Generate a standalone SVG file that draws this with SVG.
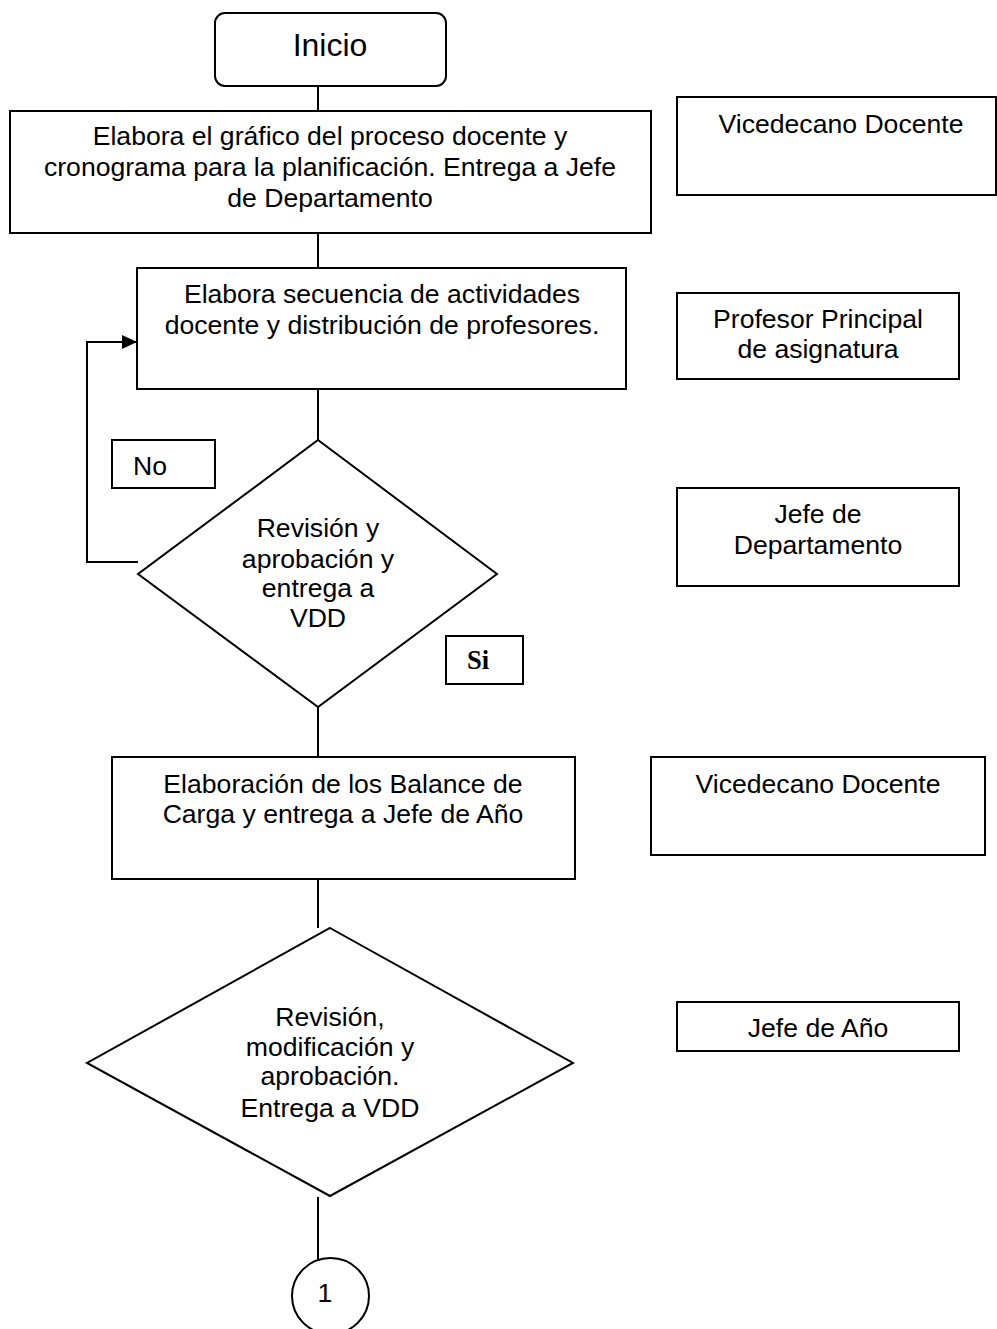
<svg xmlns="http://www.w3.org/2000/svg" width="997" height="1329" viewBox="0 0 997 1329">
  <style>
    .shape { fill: #ffffff; stroke: #000000; stroke-width: 2; }
    .link { fill: none; stroke: #000000; stroke-width: 2; }
    text { font-family: "Liberation Sans", Arial, sans-serif; font-size: 26.6px; fill: #000000; text-anchor: middle; }
    .title { font-size: 32px; }
    .tag { text-anchor: start; }
    .bold { font-family: "Liberation Serif", "Times New Roman", serif; font-weight: bold; text-anchor: start; }
  </style>
  <defs>
    <marker id="arrow" markerWidth="15" markerHeight="14" refX="15" refY="7" orient="auto" markerUnits="userSpaceOnUse">
      <path d="M0,0 L15,7 L0,14 Z" fill="#000000"/>
    </marker>
  </defs>
  <rect width="997" height="1329" fill="#ffffff"/>

  <!-- connectors -->
  <g id="connectors">
    <line class="link" x1="318" y1="86" x2="318" y2="111"/>
    <line class="link" x1="318" y1="233" x2="318" y2="268"/>
    <line class="link" x1="318" y1="389" x2="318" y2="440"/>
    <polyline class="link" points="138,562 87,562 87,342 137,342" marker-end="url(#arrow)"/>
    <line class="link" x1="318" y1="707" x2="318" y2="757"/>
    <line class="link" x1="318" y1="879" x2="318" y2="928"/>
    <line class="link" x1="318" y1="1197" x2="318" y2="1259"/>
  </g>

  <g id="inicio">
    <rect class="shape" x="215" y="13" width="231" height="73" rx="10"/>
    <text class="title" x="330" y="56">Inicio</text>
  </g>

  <g id="grafico">
    <rect class="shape" x="10" y="111" width="641" height="122"/>
    <text x="330" y="145">Elabora el gráfico del proceso docente y</text>
    <text x="330" y="176">cronograma para la planificación. Entrega a Jefe</text>
    <text x="330" y="207">de Departamento</text>
  </g>

  <g id="secuencia">
    <rect class="shape" x="137" y="268" width="489" height="121"/>
    <text x="382" y="303">Elabora secuencia de actividades</text>
    <text x="382" y="334">docente y distribución de profesores.</text>
  </g>

  <g id="label-no">
    <rect class="shape" x="112" y="440" width="103" height="48"/>
    <text class="tag" x="133" y="475">No</text>
  </g>

  <g id="revision">
    <polygon class="shape" points="318,440 497,574 318,707 138,574"/>
    <text x="318" y="537">Revisión y</text>
    <text x="318" y="568">aprobación y</text>
    <text x="318" y="597">entrega a</text>
    <text x="318" y="627">VDD</text>
  </g>

  <g id="label-si">
    <rect class="shape" x="446" y="636" width="77" height="48"/>
    <text class="bold" x="467" y="669">Si</text>
  </g>

  <g id="balance">
    <rect class="shape" x="112" y="757" width="463" height="122"/>
    <text x="343" y="793">Elaboración de los Balance de</text>
    <text x="343" y="823">Carga y entrega a Jefe de Año</text>
  </g>

  <g id="modificacion">
    <polygon class="shape" points="330,928 573,1063 330,1196 87,1063"/>
    <text x="330" y="1026">Revisión,</text>
    <text x="330" y="1056">modificación y</text>
    <text x="330" y="1085">aprobación.</text>
    <text x="330" y="1117">Entrega a VDD</text>
  </g>

  <g id="conector-1">
    <ellipse class="shape" cx="330.5" cy="1296" rx="38.5" ry="38"/>
    <text x="325" y="1302">1</text>
  </g>

  <g id="rol-vicedecano-1">
    <rect class="shape" x="677" y="97" width="319" height="98"/>
    <text x="841" y="133">Vicedecano Docente</text>
  </g>

  <g id="rol-profesor">
    <rect class="shape" x="677" y="293" width="282" height="86"/>
    <text x="818" y="328">Profesor Principal</text>
    <text x="818" y="358">de asignatura</text>
  </g>

  <g id="rol-jefe-departamento">
    <rect class="shape" x="677" y="488" width="282" height="98"/>
    <text x="818" y="523">Jefe de</text>
    <text x="818" y="554">Departamento</text>
  </g>

  <g id="rol-vicedecano-2">
    <rect class="shape" x="651" y="757" width="334" height="98"/>
    <text x="818" y="793">Vicedecano Docente</text>
  </g>

  <g id="rol-jefe-anio">
    <rect class="shape" x="677" y="1002" width="282" height="49"/>
    <text x="818" y="1037">Jefe de Año</text>
  </g>
</svg>
